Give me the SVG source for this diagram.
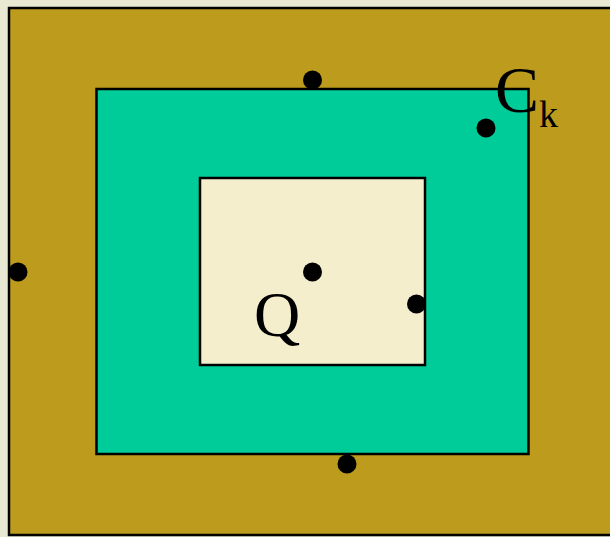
<svg xmlns="http://www.w3.org/2000/svg" width="610" height="537" viewBox="0 0 610 537">
<style>
.dot{fill:#000}
.lbl{font-family:"Liberation Serif","Times New Roman",serif;fill:#000}
</style>
<rect x="0" y="0" width="610" height="537" fill="#E9E9D3"/>
<g id="outer"><rect x="9" y="8" width="610" height="527" fill="#BD9B1C" stroke="#000" stroke-width="2.5"/></g>
<g id="ck"><rect x="96.5" y="89" width="432" height="365" fill="#00CC99" stroke="#000" stroke-width="2.5"/></g>
<g id="q"><rect x="200" y="178" width="225" height="187" fill="#F5EECC" stroke="#000" stroke-width="2.5"/></g>
<g id="labels">
<text class="lbl" x="495" y="112" font-size="66">C<tspan font-size="38" dy="15">k</tspan></text>
<text class="lbl" x="254" y="336" font-size="64">Q</text>
</g>
<g id="points">
<circle class="dot" cx="312.5" cy="80" r="9.5"/>
<circle class="dot" cx="486" cy="128" r="9.5"/>
<circle class="dot" cx="18" cy="272" r="9.5"/>
<circle class="dot" cx="312.5" cy="272" r="9.5"/>
<circle class="dot" cx="416.5" cy="304" r="9.5"/>
<circle class="dot" cx="347" cy="464" r="9.5"/>
</g>
</svg>
